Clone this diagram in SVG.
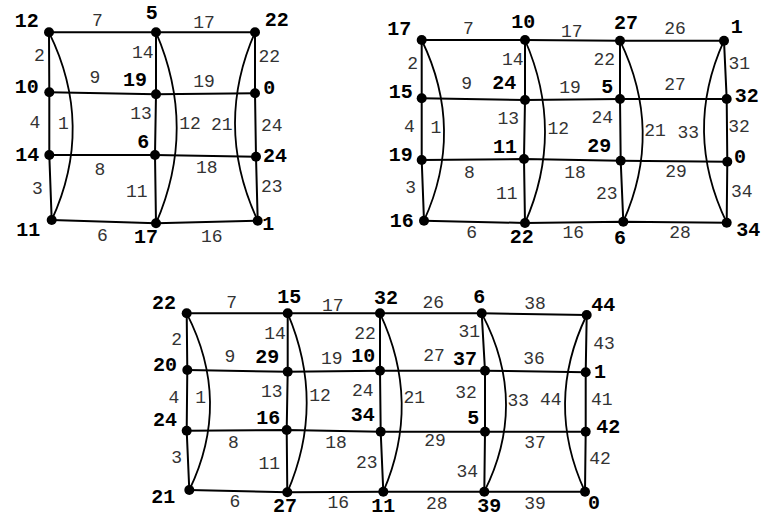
<svg xmlns="http://www.w3.org/2000/svg" width="762" height="518" viewBox="0 0 762 518">
<style>
.ln{stroke:#000;stroke-width:2;fill:none}
.cv{stroke:#000;stroke-width:1.8;fill:none}
.dot{fill:#000}
.n{font-family:"Liberation Mono","Courier New",monospace;font-weight:bold;font-size:20px;fill:#000;text-anchor:middle}
.e{font-family:"Liberation Mono","Courier New",monospace;font-size:18px;fill:#333;text-anchor:middle}
</style>
<rect width="762" height="518" fill="#fff"/>
<g id="connectors">
<!-- Diagram 1 -->
<path class="ln" d="M49,32.3 L156,32.3 L255,32.3"/>
<path class="ln" d="M49.3,92.3 L156,94.3 L255,93.3"/>
<path class="ln" d="M49.3,155 L155,155 L256,156.7"/>
<path class="ln" d="M51.7,220 L156,223.3 L257.7,220.7"/>
<path class="ln" d="M49,32.3 L49.3,92.3 L49.3,155 L51.7,220"/>
<path class="ln" d="M156,32.3 L156,94.3 L155,155 L156,223.3"/>
<path class="ln" d="M255,32.3 L255,93.3 L256,156.7 L257.7,220.7"/>
<path class="cv" d="M49,32.3 Q95,126 51.7,220"/>
<path class="cv" d="M156,32.3 Q197.4,128 156,223.3"/>
<path class="cv" d="M255,32.3 Q213.7,126 257.7,220.7"/>
<!-- Diagram 2 -->
<path class="ln" d="M421.7,40 L525,40 L620,40.7 L724,40.7"/>
<path class="ln" d="M421.7,98.3 L525,100 L620,99 L726.7,99"/>
<path class="ln" d="M421.7,160 L524,159 L620.7,160.7 L727.3,161.7"/>
<path class="ln" d="M424,220.7 L525,223 L623.3,221.7 L726.7,222.7"/>
<path class="ln" d="M421.7,40 L421.7,98.3 L421.7,160 L424,220.7"/>
<path class="ln" d="M525,40 L525,100 L524,159 L525,223"/>
<path class="ln" d="M620,40.7 L620,99 L620.7,160.7 L623.3,221.7"/>
<path class="ln" d="M724,40.7 L726.7,99 L727.3,161.7 L726.7,222.7"/>
<path class="cv" d="M421.7,40 Q465.2,130.3 424,220.7"/>
<path class="cv" d="M525,40 Q565,132 525,223"/>
<path class="cv" d="M620,40.7 Q663.7,131.2 623.3,221.7"/>
<path class="cv" d="M724,40.7 Q682.7,131.7 726.7,222.7"/>
<!-- Diagram 3 -->
<path class="ln" d="M186.7,313.3 L287.7,313.3 L380,313.3 L481.7,313.3 L586.7,315"/>
<path class="ln" d="M187.3,370 L287.7,371.7 L380,370.7 L485,370.7 L585.7,372.3"/>
<path class="ln" d="M186.7,430.7 L286.7,430 L380.7,431.7 L485,431.7 L585.7,431.7"/>
<path class="ln" d="M189.3,490 L287.3,492.3 L383.3,491.7 L484.3,491.7 L585,491.7"/>
<path class="ln" d="M186.7,313.3 L187.3,370 L186.7,430.7 L189.3,490"/>
<path class="ln" d="M287.7,313.3 L287.7,371.7 L286.7,430 L287.3,492.3"/>
<path class="ln" d="M380,313.3 L380,370.7 L380.7,431.7 L383.3,491.7"/>
<path class="ln" d="M481.7,313.3 L485,370.7 L485,431.7 L484.3,491.7"/>
<path class="ln" d="M586.7,315 L585.7,372.3 L585.7,431.7 L585,491.7"/>
<path class="cv" d="M186.7,313.3 Q232,401.7 189.3,490"/>
<path class="cv" d="M287.7,313.3 Q325.9,403.3 287.3,492.3"/>
<path class="cv" d="M380,313.3 Q421.7,402.5 383.3,491.7"/>
<path class="cv" d="M481.7,313.3 Q529,402.5 484.3,491.7"/>
<path class="cv" d="M586.7,315 Q544.2,403.3 585,491.7"/>
</g>
<g id="edge-labels">
<!-- Diagram 1 -->
<text class="e" x="97.3" y="26">7</text>
<text class="e" x="204" y="27.6">17</text>
<text class="e" x="39.3" y="61">2</text>
<text class="e" x="142.7" y="58.2">14</text>
<text class="e" x="269.3" y="62">22</text>
<text class="e" x="95" y="83.2">9</text>
<text class="e" x="204" y="87">19</text>
<text class="e" x="35" y="127.6">4</text>
<text class="e" x="63.3" y="128.6">1</text>
<text class="e" x="141" y="119.2">13</text>
<text class="e" x="190" y="128.6">12</text>
<text class="e" x="221.7" y="130">21</text>
<text class="e" x="271.7" y="131">24</text>
<text class="e" x="100" y="175.2">8</text>
<text class="e" x="206.7" y="172.6">18</text>
<text class="e" x="37.3" y="194.2">3</text>
<text class="e" x="136.7" y="196.6">11</text>
<text class="e" x="271.7" y="192">23</text>
<text class="e" x="102.3" y="241">6</text>
<text class="e" x="211.7" y="242">16</text>
<!-- Diagram 2 -->
<text class="e" x="468.3" y="34.2">7</text>
<text class="e" x="571.7" y="36.6">17</text>
<text class="e" x="675" y="34.2">26</text>
<text class="e" x="412.7" y="68.6">2</text>
<text class="e" x="512.7" y="65.2">14</text>
<text class="e" x="604.3" y="65.2">22</text>
<text class="e" x="739.3" y="68.6">31</text>
<text class="e" x="466.7" y="89.2">9</text>
<text class="e" x="570" y="93.2">19</text>
<text class="e" x="675" y="90">27</text>
<text class="e" x="409.3" y="131.6">4</text>
<text class="e" x="436" y="132.6">1</text>
<text class="e" x="508.3" y="124.2">13</text>
<text class="e" x="558.3" y="134.2">12</text>
<text class="e" x="602.3" y="122.6">24</text>
<text class="e" x="655" y="136">21</text>
<text class="e" x="688.3" y="137.6">33</text>
<text class="e" x="739" y="132">32</text>
<text class="e" x="469.3" y="177.6">8</text>
<text class="e" x="575" y="178.2">18</text>
<text class="e" x="676" y="176.6">29</text>
<text class="e" x="410.7" y="193.2">3</text>
<text class="e" x="506.7" y="199.2">11</text>
<text class="e" x="606.7" y="198.6">23</text>
<text class="e" x="741.7" y="196.6">34</text>
<text class="e" x="471.7" y="238.2">6</text>
<text class="e" x="573.3" y="238.4">16</text>
<text class="e" x="680" y="238.4">28</text>
<!-- Diagram 3 -->
<text class="e" x="231.7" y="307.6">7</text>
<text class="e" x="332.7" y="311">17</text>
<text class="e" x="433.3" y="307.6">26</text>
<text class="e" x="535" y="308.6">38</text>
<text class="e" x="176.7" y="345.2">2</text>
<text class="e" x="275" y="338.6">14</text>
<text class="e" x="365" y="338.6">22</text>
<text class="e" x="469.3" y="336.6">31</text>
<text class="e" x="604" y="349.2">43</text>
<text class="e" x="230" y="362">9</text>
<text class="e" x="331.7" y="364.2">19</text>
<text class="e" x="434" y="361">27</text>
<text class="e" x="534" y="364.2">36</text>
<text class="e" x="174" y="402.6">4</text>
<text class="e" x="200.7" y="403.2">1</text>
<text class="e" x="271.7" y="396.6">13</text>
<text class="e" x="320" y="401">12</text>
<text class="e" x="362.7" y="396">24</text>
<text class="e" x="414.3" y="402.6">21</text>
<text class="e" x="466" y="398.2">32</text>
<text class="e" x="518.3" y="406">33</text>
<text class="e" x="550.7" y="405.2">44</text>
<text class="e" x="601.7" y="405.2">41</text>
<text class="e" x="233.3" y="447.6">8</text>
<text class="e" x="336" y="447.6">18</text>
<text class="e" x="435" y="446">29</text>
<text class="e" x="535" y="447.6">37</text>
<text class="e" x="176.7" y="463.2">3</text>
<text class="e" x="269.3" y="468.6">11</text>
<text class="e" x="366.7" y="467.6">23</text>
<text class="e" x="467.3" y="476.6">34</text>
<text class="e" x="600" y="464.2">42</text>
<text class="e" x="235" y="506.6">6</text>
<text class="e" x="338.3" y="507.6">16</text>
<text class="e" x="436.7" y="509.2">28</text>
<text class="e" x="535" y="508.6">39</text>
</g>
<!-- Diagram 1 nodes -->
<g id="a-n12"><circle class="dot" cx="49" cy="32.3" r="5"/><text class="n" x="26.7" y="27">12</text></g>
<g id="a-n5"><circle class="dot" cx="156" cy="32.3" r="5"/><text class="n" x="151.7" y="19.3">5</text></g>
<g id="a-n22"><circle class="dot" cx="255" cy="32.3" r="5"/><text class="n" x="276.7" y="26">22</text></g>
<g id="a-n10"><circle class="dot" cx="49.3" cy="92.3" r="5"/><text class="n" x="26.7" y="92.7">10</text></g>
<g id="a-n19"><circle class="dot" cx="156" cy="94.3" r="5"/><text class="n" x="135" y="86">19</text></g>
<g id="a-n0"><circle class="dot" cx="255" cy="93.3" r="5"/><text class="n" x="269.3" y="94.3">0</text></g>
<g id="a-n14"><circle class="dot" cx="49.3" cy="155" r="5"/><text class="n" x="27.3" y="161">14</text></g>
<g id="a-n6"><circle class="dot" cx="155" cy="155" r="5"/><text class="n" x="143.3" y="147.7">6</text></g>
<g id="a-n24"><circle class="dot" cx="256" cy="156.7" r="5"/><text class="n" x="275" y="162">24</text></g>
<g id="a-n11"><circle class="dot" cx="51.7" cy="220" r="5"/><text class="n" x="28.3" y="236">11</text></g>
<g id="a-n17"><circle class="dot" cx="156" cy="223.3" r="5"/><text class="n" x="146" y="243.3">17</text></g>
<g id="a-n1"><circle class="dot" cx="257.7" cy="220.7" r="5"/><text class="n" x="268.3" y="230">1</text></g>
<!-- Diagram 2 nodes -->
<g id="b-n17"><circle class="dot" cx="421.7" cy="40" r="5"/><text class="n" x="399.3" y="35.3">17</text></g>
<g id="b-n10"><circle class="dot" cx="525" cy="40" r="5"/><text class="n" x="523.3" y="27.7">10</text></g>
<g id="b-n27"><circle class="dot" cx="620" cy="40.7" r="5"/><text class="n" x="626" y="29.3">27</text></g>
<g id="b-n1"><circle class="dot" cx="724" cy="40.7" r="5"/><text class="n" x="736.7" y="32.7">1</text></g>
<g id="b-n15"><circle class="dot" cx="421.7" cy="98.3" r="5"/><text class="n" x="400.7" y="97.7">15</text></g>
<g id="b-n24"><circle class="dot" cx="525" cy="100" r="5"/><text class="n" x="504.3" y="89.3">24</text></g>
<g id="b-n5"><circle class="dot" cx="620" cy="99" r="5"/><text class="n" x="607.3" y="93.3">5</text></g>
<g id="b-n32"><circle class="dot" cx="726.7" cy="99" r="5"/><text class="n" x="746.7" y="102">32</text></g>
<g id="b-n19"><circle class="dot" cx="421.7" cy="160" r="5"/><text class="n" x="400.7" y="161">19</text></g>
<g id="b-n11"><circle class="dot" cx="524" cy="159" r="5"/><text class="n" x="505" y="152.7">11</text></g>
<g id="b-n29"><circle class="dot" cx="620.7" cy="160.7" r="5"/><text class="n" x="599.3" y="151.7">29</text></g>
<g id="b-n0"><circle class="dot" cx="727.3" cy="161.7" r="5"/><text class="n" x="740" y="162.7">0</text></g>
<g id="b-n16"><circle class="dot" cx="424" cy="220.7" r="5"/><text class="n" x="401.7" y="226.7">16</text></g>
<g id="b-n22"><circle class="dot" cx="525" cy="223" r="5"/><text class="n" x="521.7" y="242.7">22</text></g>
<g id="b-n6"><circle class="dot" cx="623.3" cy="221.7" r="5"/><text class="n" x="620" y="244.3">6</text></g>
<g id="b-n34"><circle class="dot" cx="726.7" cy="222.7" r="5"/><text class="n" x="748.3" y="236">34</text></g>
<!-- Diagram 3 nodes -->
<g id="c-n22"><circle class="dot" cx="186.7" cy="313.3" r="5"/><text class="n" x="164" y="309.3">22</text></g>
<g id="c-n15"><circle class="dot" cx="287.7" cy="313.3" r="5"/><text class="n" x="289.3" y="302.7">15</text></g>
<g id="c-n32"><circle class="dot" cx="380" cy="313.3" r="5"/><text class="n" x="386" y="304.3">32</text></g>
<g id="c-n6"><circle class="dot" cx="481.7" cy="313.3" r="5"/><text class="n" x="479.3" y="302.7">6</text></g>
<g id="c-n44"><circle class="dot" cx="586.7" cy="315" r="5"/><text class="n" x="603.3" y="311">44</text></g>
<g id="c-n20"><circle class="dot" cx="187.3" cy="370" r="5"/><text class="n" x="165" y="371">20</text></g>
<g id="c-n29"><circle class="dot" cx="287.7" cy="371.7" r="5"/><text class="n" x="267.3" y="362.7">29</text></g>
<g id="c-n10"><circle class="dot" cx="380" cy="370.7" r="5"/><text class="n" x="363.3" y="362">10</text></g>
<g id="c-n37"><circle class="dot" cx="485" cy="370.7" r="5"/><text class="n" x="465" y="365.3">37</text></g>
<g id="c-n1"><circle class="dot" cx="585.7" cy="372.3" r="5"/><text class="n" x="600" y="377.7">1</text></g>
<g id="c-n24"><circle class="dot" cx="186.7" cy="430.7" r="5"/><text class="n" x="165" y="426">24</text></g>
<g id="c-n16"><circle class="dot" cx="286.7" cy="430" r="5"/><text class="n" x="268.3" y="424.3">16</text></g>
<g id="c-n34"><circle class="dot" cx="380.7" cy="431.7" r="5"/><text class="n" x="362.7" y="421">34</text></g>
<g id="c-n5"><circle class="dot" cx="485" cy="431.7" r="5"/><text class="n" x="473.3" y="424.3">5</text></g>
<g id="c-n42"><circle class="dot" cx="585.7" cy="431.7" r="5"/><text class="n" x="608.3" y="432.7">42</text></g>
<g id="c-n21"><circle class="dot" cx="189.3" cy="490" r="5"/><text class="n" x="163.3" y="502.7">21</text></g>
<g id="c-n27"><circle class="dot" cx="287.3" cy="492.3" r="5"/><text class="n" x="285" y="511.5">27</text></g>
<g id="c-n11"><circle class="dot" cx="383.3" cy="491.7" r="5"/><text class="n" x="383.3" y="511.5">11</text></g>
<g id="c-n39"><circle class="dot" cx="484.3" cy="491.7" r="5"/><text class="n" x="489.3" y="511.5">39</text></g>
<g id="c-n0"><circle class="dot" cx="585" cy="491.7" r="5"/><text class="n" x="594" y="509.3">0</text></g>
</svg>
